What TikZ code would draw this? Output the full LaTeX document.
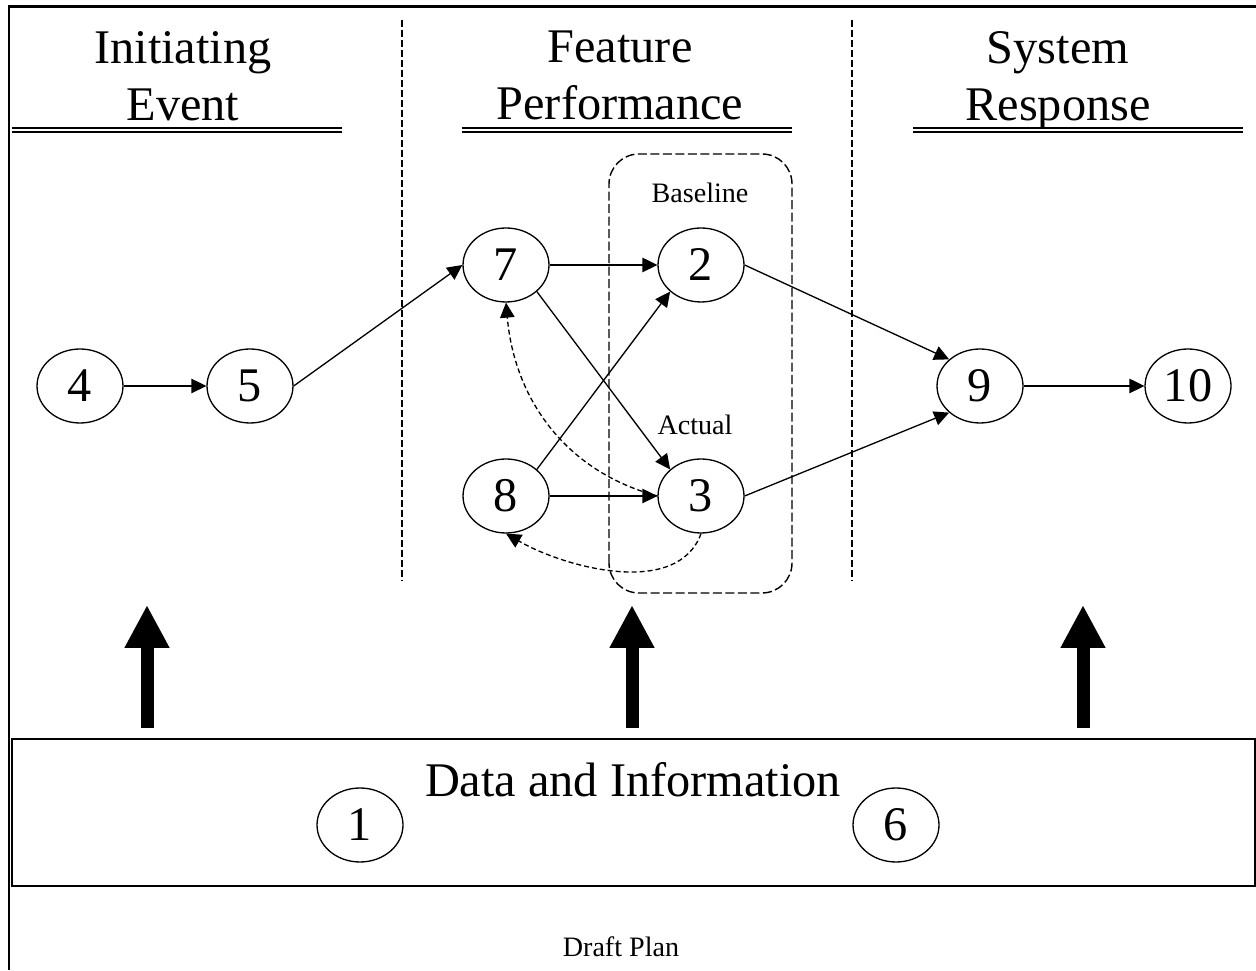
\documentclass[tikz,border=0pt]{standalone}
\usepackage{fontspec}
\setmainfont{Liberation Serif}
\usetikzlibrary{arrows.meta,shapes.geometric}
\begin{document}
\begin{tikzpicture}[x=0.02cm, y=0.02cm,
    big/.style={font=\fontsize{27.5}{32.3}\selectfont},
    small/.style={font=\fontsize{16}{19}\selectfont},
    event/.style={draw, ellipse, line width=0.75pt, minimum width=1.72cm, minimum height=1.48cm, inner sep=0pt, big},
    flow/.style={line width=0.75pt, -{Triangle[length=0.3cm, width=0.29cm]}},
    back/.style={flow, dash pattern=on 0.1cm off 0.06cm},
    heading/.style={big, align=center, anchor=north, inner sep=0pt},
    underline/.style={double, double distance=0.05cm, line width=0.8pt},
    divider/.style={line width=1pt, dash pattern=on 0.14cm off 0.06cm},
    feed/.style={line width=0.26cm, -{Triangle[length=0.86cm, width=0.84cm]}}]
    \useasboundingbox (0,0) rectangle (1256,970);

    % Draw frame
    \draw[line width=0.06cm] (9,0) -- (9,963) -- (1256,963);

    % Column headings
    \node[heading] (initiating) at (183,939) {Initiating\\Event};
    \node[heading] (feature) at (620,939) {Feature\\Performance};
    \node[heading] (system) at (1058,939) {System\\Response};
    \draw[underline] (12,840) -- (342,840);
    \draw[underline] (462,840) -- (792,840);
    \draw[underline] (913,840) -- (1243,840);

    % Column dividers
    \draw[divider] (402,950) -- (402,390);
    \draw[divider] (852,950) -- (852,390);

    % Baseline / actual group
    \draw[line width=0.8pt, dash pattern=on 0.18cm off 0.07cm, rounded corners=0.6cm] (609,377) rectangle (792,816);
    \node[small] (baseline) at (700,777) {Baseline};
    \node[small] (actual) at (695,545) {Actual};

    % Events
    \node[event] (n4) at (80,584) {4};
    \node[event] (n5) at (250,584) {5};
    \node[event] (n7) at (506,705) {7};
    \node[event] (n2) at (701,705) {2};
    \node[event] (n8) at (506,474) {8};
    \node[event] (n3) at (701,474) {3};
    \node[event] (n9) at (980,584) {9};
    \node[event] (n10) at (1188,584) {10};

    % Connections
    \draw[flow] (n4.east) -- (n5.west);
    \draw[flow] (n5.east) -- (n7.west);
    \draw[flow] (n7.east) -- (n2.west);
    \draw[flow] (n7.south east) -- (n3.north west);
    \draw[flow] (n8.north east) -- (n2.south west);
    \draw[flow] (n8.east) -- (n3.west);
    \draw[flow] (n2.east) -- (n9.north west);
    \draw[flow] (n3.east) -- (n9.south west);
    \draw[flow] (n9.east) -- (n10.west);
    \draw[back] (n3.west) to[out=165, in=-85] (n7.south);
    \draw[back] (n3.south) to[out=-110, in=-30, looseness=0.9] (n8.south);

    % Data and information
    \node[draw, line width=1.1pt, minimum width=24.86cm, minimum height=2.94cm] (data) at (633.5,157.5) {};
    \node[big, anchor=base] (datatxt) at (633,174) {Data and Information};
    \node[event] (n1) at (360,145) {1};
    \node[event] (n6) at (896,145) {6};

    % Feed arrows
    \foreach \x [count=\i] in {147,632,1083} {
        \coordinate (foot\i) at (\x,242);
        \coordinate (tip\i) at (\x,365);
        \draw[feed] (foot\i) -- (tip\i);
    }

    \node[small] (draft) at (621,23) {Draft Plan};
\end{tikzpicture}
\end{document}
